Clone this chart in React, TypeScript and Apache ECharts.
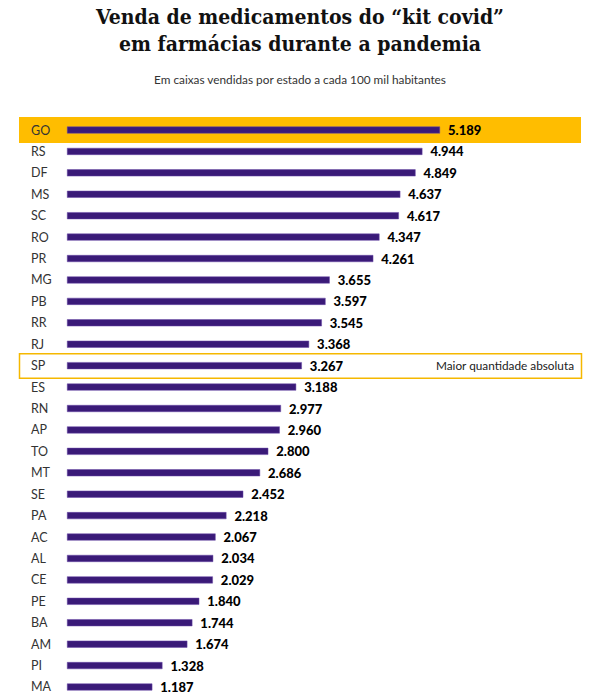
import React, { useEffect, useRef } from "react";
import * as echarts from "echarts";

const states = ["GO","RS","DF","MS","SC","RO","PR","MG","PB","RR","RJ","SP","ES","RN","AP","TO","MT","SE","PA","AC","AL","CE","PE","BA","AM","PI","MA"];
const values = [5189,4944,4849,4637,4617,4347,4261,3655,3597,3545,3368,3267,3188,2977,2960,2800,2686,2452,2218,2067,2034,2029,1840,1744,1674,1328,1187];
const highlightState = "GO";
const outlinedState = "SP";
const outlinedNote = "Maior quantidade absoluta";
const titleText = "Venda de medicamentos do “kit covid”\nem farmácias durante a pandemia";
const subtitleText = "Em caixas vendidas por estado a cada 100 mil habitantes";

const fmt = (v: number) => String(v).replace(/\B(?=(\d{3})+(?!\d))/g, ".");

export default function App() {
  const ref = useRef<HTMLDivElement>(null);
  useEffect(() => {
    if (!ref.current) return;
    const chart = echarts.init(ref.current, null, { renderer: "svg" });
    const gridTop = 119.3;
    const gridHeight = 578.4;
    chart.setOption({
      animation: false,
      backgroundColor: "#ffffff",
      title: [
        {
          text: titleText,
          left: "center",
          top: -2,
          textStyle: {
            fontFamily: "'DejaVu Serif Condensed', 'DejaVu Serif', serif",
            fontWeight: "bold",
            fontSize: 21,
            lineHeight: 27,
            color: "#111",
          },
        },
        {
          text: subtitleText,
          left: "center",
          top: 68,
          textStyle: { fontFamily: "Lato", fontWeight: "normal", fontSize: 11.8, color: "#333" },
        },
      ],
      grid: { left: 67, top: gridTop, height: gridHeight, width: 431.3, containLabel: false },
      xAxis: { type: "value", min: 0, max: 6000, show: false },
      yAxis: {
        type: "category",
        data: states,
        inverse: true,
        axisLine: { show: false },
        axisTick: { show: false },
        splitLine: { show: false },
        axisLabel: { align: "left", margin: 36, fontFamily: "Lato", fontSize: 12.5, color: "#333" },
        z: 10,
      },
      series: [
        {
          type: "bar",
          data: values,
          barWidth: 7,
          itemStyle: { color: "#3a1a78", borderColor: "#6a4aa8", borderWidth: 0.5 },
          label: {
            show: true,
            position: "right",
            distance: 8,
            formatter: (p: any) => fmt(p.value),
            fontFamily: "Lato",
            fontWeight: 900,
            fontSize: 13,
            color: "#000",
          },
          z: 5,
        },
      ],
    });
    const yGO = chart.convertToPixel({ yAxisIndex: 0 }, highlightState) as number;
    const ySP = chart.convertToPixel({ yAxisIndex: 0 }, outlinedState) as number;
    chart.setOption({
      graphic: [
        {
          type: "rect",
          shape: { x: 19, y: yGO - 13, width: 562, height: 26 },
          style: { fill: "#ffbd00" },
          z: 0,
          silent: true,
        },
        {
          type: "rect",
          shape: { x: 19.5, y: ySP - 12, width: 562, height: 24.5 },
          style: { fill: "none", stroke: "#f5b800", lineWidth: 1.5 },
          z: 0,
          silent: true,
        },
        {
          type: "text",
          x: 574,
          y: ySP,
          style: {
            text: outlinedNote,
            align: "right",
            verticalAlign: "middle",
            fontFamily: "Lato",
            fontSize: 11.8,
            fill: "#222",
          },
          z: 20,
        },
      ],
    });
    return () => chart.dispose();
  }, []);
  return <div ref={ref} style={{ position: "absolute", left: 0, top: 0, width: 600, height: 700 }} />;
}
